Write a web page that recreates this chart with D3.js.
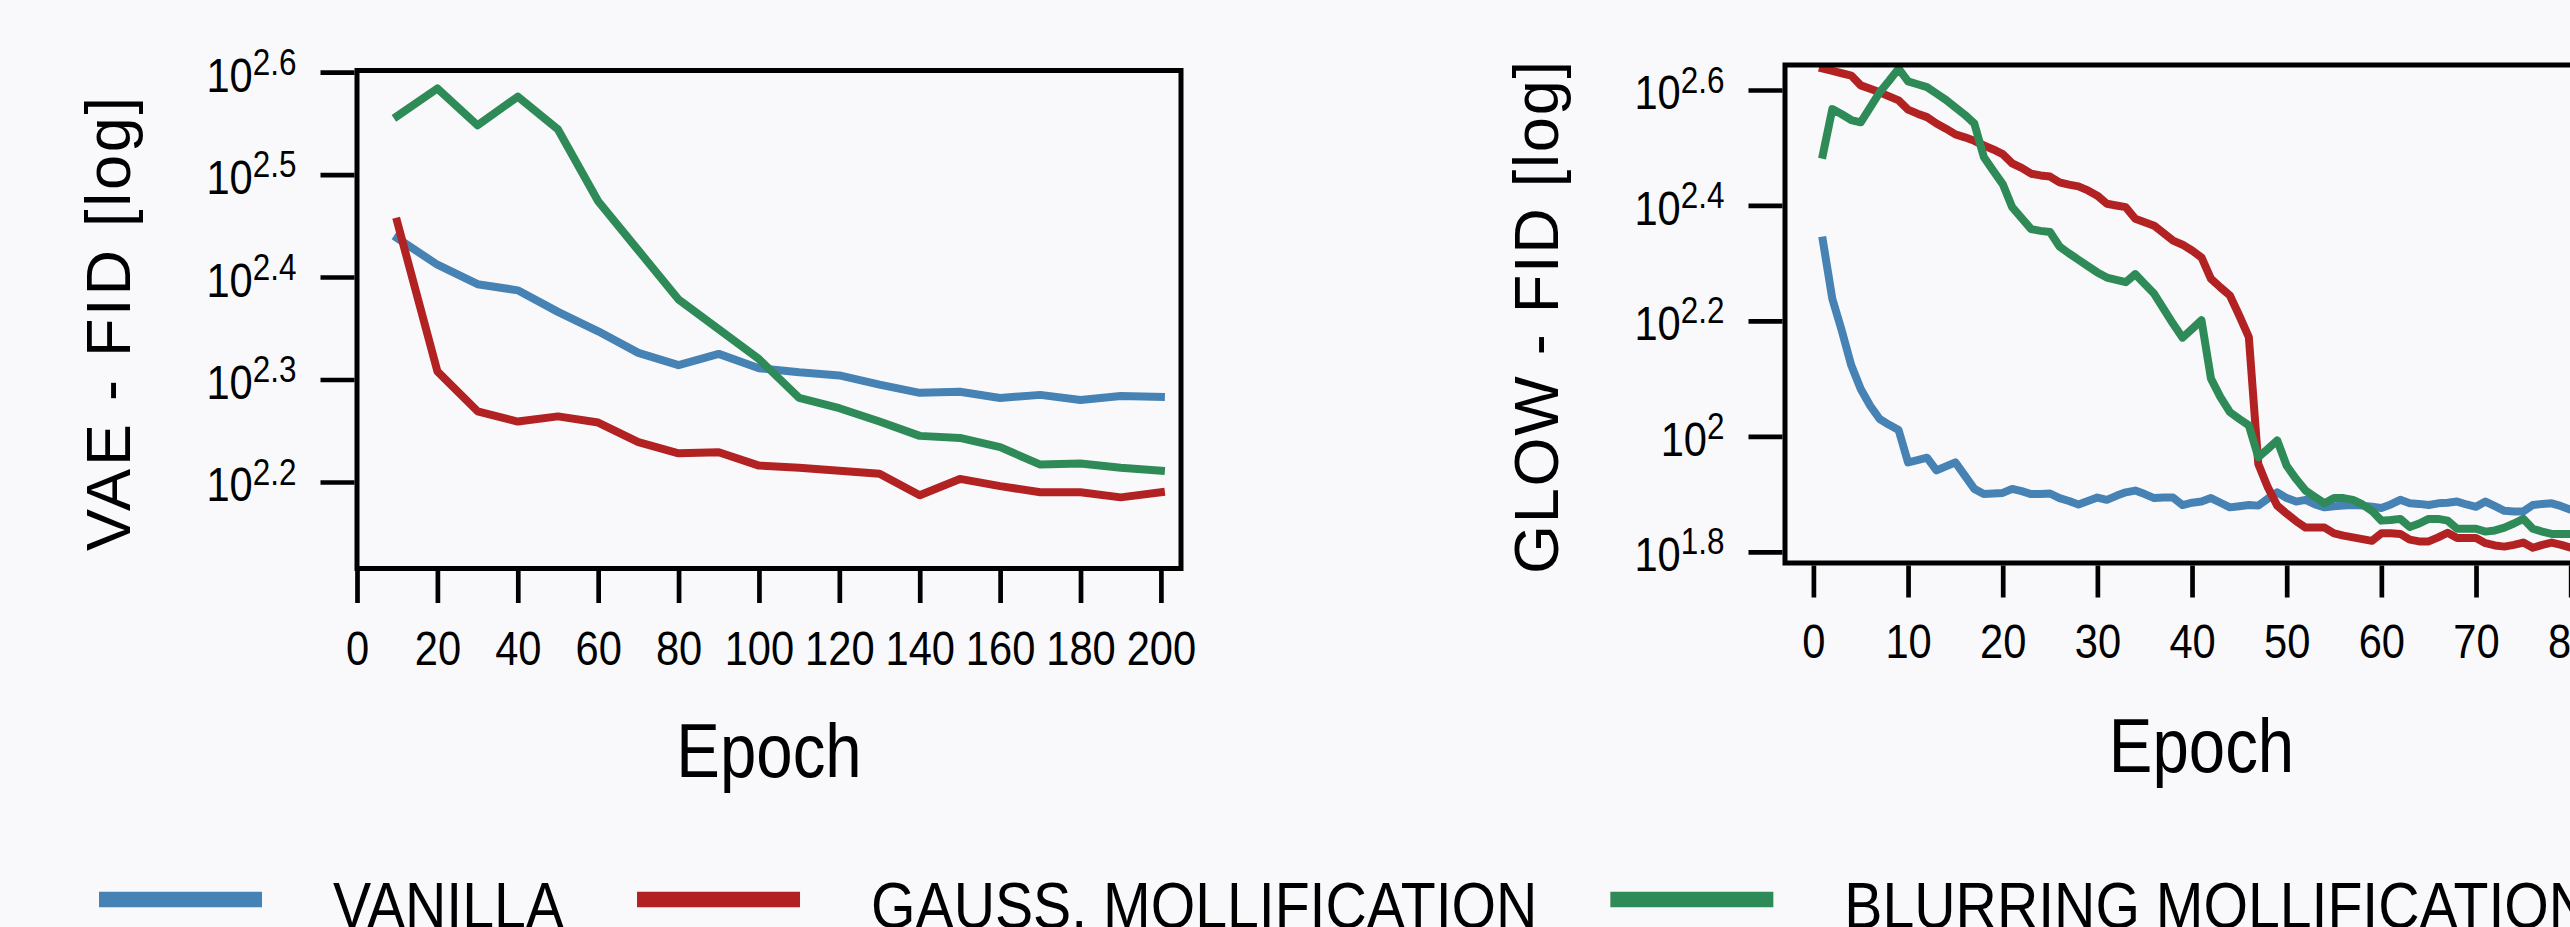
<!DOCTYPE html>
<html>
<head>
<meta charset="utf-8">
<script src="https://cdn.jsdelivr.net/npm/d3@7"></script>
<style>
  body { margin: 0; background: #f9f9fc; overflow: hidden; }
  svg { display: block; font-family: "Liberation Sans", Arial, sans-serif; }
</style>
</head>
<body>
<div id="chart"></div>
<script>
// VAE panel: epochs and log10(FID) per method
var vaeEpochs = [10, 20, 30, 40, 50, 60, 70, 80, 90, 100, 110, 120, 130, 140, 150, 160, 170, 180, 190, 200];
var vaeVanilla = [2.438, 2.412, 2.393, 2.387, 2.366, 2.347, 2.326, 2.314, 2.325, 2.311, 2.307, 2.304, 2.295, 2.287, 2.288, 2.282, 2.285, 2.280, 2.284, 2.283];
var vaeGauss = [2.454, 2.308, 2.269, 2.259, 2.264, 2.258, 2.239, 2.228, 2.229, 2.216, 2.214, 2.211, 2.208, 2.187, 2.203, 2.196, 2.190, 2.190, 2.185, 2.190];
var vaeBlur = [2.557, 2.584, 2.548, 2.576, 2.544, 2.474, 2.426, 2.378, 2.349, 2.320, 2.282, 2.272, 2.259, 2.245, 2.243, 2.234, 2.217, 2.218, 2.214, 2.211];

// GLOW panel: epochs and log10(FID) per method
var glowEpochs = [1, 2, 3, 4, 5, 6, 7, 8, 9, 10, 11, 12, 13, 14, 15, 16, 17, 18, 19, 20,
  21, 22, 23, 24, 25, 26, 27, 28, 29, 30, 31, 32, 33, 34, 35, 36, 37, 38, 39, 40,
  41, 42, 43, 44, 45, 46, 47, 48, 49, 50, 51, 52, 53, 54, 55, 56, 57, 58, 59, 60,
  61, 62, 63, 64, 65, 66, 67, 68, 69, 70, 71, 72, 73, 74, 75, 76, 77, 78, 79, 80, 81];
var glowVanilla = [2.339, 2.238, 2.183, 2.123, 2.082, 2.053, 2.030, 2.020, 2.011, 1.955,
  1.959, 1.963, 1.941, 1.948, 1.955, 1.932, 1.909, 1.900, 1.901, 1.902,
  1.909, 1.905, 1.900, 1.900, 1.901, 1.893, 1.888, 1.882, 1.888, 1.894,
  1.890, 1.897, 1.903, 1.906, 1.900, 1.893, 1.894, 1.894, 1.881, 1.885,
  1.887, 1.893, 1.885, 1.877, 1.879, 1.881, 1.880, 1.892, 1.903, 1.893,
  1.887, 1.890, 1.882, 1.877, 1.879, 1.880, 1.881, 1.880, 1.878, 1.876,
  1.882, 1.890, 1.884, 1.883, 1.881, 1.884, 1.885, 1.887, 1.882, 1.878,
  1.887, 1.879, 1.871, 1.870, 1.870, 1.881, 1.883, 1.884, 1.879, 1.873, 1.870];
var glowGauss = [2.637, 2.633, 2.629, 2.625, 2.608, 2.602, 2.596, 2.589, 2.582, 2.566,
  2.559, 2.553, 2.542, 2.533, 2.523, 2.518, 2.512, 2.504, 2.497, 2.489,
  2.473, 2.465, 2.455, 2.452, 2.450, 2.440, 2.436, 2.433, 2.426, 2.417,
  2.403, 2.400, 2.397, 2.377, 2.371, 2.365, 2.352, 2.339, 2.332, 2.322,
  2.310, 2.273, 2.258, 2.244, 2.209, 2.172, 1.952, 1.912, 1.880, 1.866,
  1.853, 1.842, 1.842, 1.842, 1.832, 1.828, 1.825, 1.822, 1.819, 1.832,
  1.832, 1.831, 1.821, 1.818, 1.818, 1.825, 1.833, 1.824, 1.824, 1.824,
  1.815, 1.811, 1.809, 1.812, 1.816, 1.807, 1.812, 1.816, 1.812, 1.807, 1.810];
var glowBlur = [2.488, 2.567, 2.558, 2.548, 2.544, 2.570, 2.596, 2.616, 2.637, 2.615,
  2.610, 2.605, 2.594, 2.583, 2.570, 2.557, 2.542, 2.484, 2.460, 2.437,
  2.397, 2.378, 2.359, 2.356, 2.354, 2.329, 2.317, 2.306, 2.295, 2.284,
  2.275, 2.271, 2.267, 2.281, 2.264, 2.247, 2.221, 2.195, 2.171, 2.186,
  2.201, 2.100, 2.068, 2.042, 2.030, 2.019, 1.964, 1.978, 1.993, 1.949,
  1.926, 1.906, 1.895, 1.884, 1.893, 1.893, 1.890, 1.882, 1.871, 1.854,
  1.855, 1.857, 1.843, 1.849, 1.857, 1.857, 1.854, 1.840, 1.840, 1.840,
  1.835, 1.837, 1.842, 1.849, 1.857, 1.840, 1.835, 1.831, 1.831, 1.831, 1.831];

// Ticks
var vaeXTicks = [0, 20, 40, 60, 80, 100, 120, 140, 160, 180, 200];
var vaeYTicks = [2.2, 2.3, 2.4, 2.5, 2.6];
var glowXTicks = [0, 10, 20, 30, 40, 50, 60, 70, 80];
var glowYTicks = [1.8, 2.0, 2.2, 2.4, 2.6];

var seriesNames = ["VANILLA", "GAUSS. MOLLIFICATION", "BLURRING MOLLIFICATION"];
var seriesColors = ["#4682b4", "#b22222", "#2e8b57"];

var W = 2570, H = 927;
var narrow = 0.85; // glyphs in the original are narrower than Liberation Sans

var svg = d3.select("#chart").append("svg")
    .attr("width", W)
    .attr("height", H);

svg.append("rect")
    .attr("width", W)
    .attr("height", H)
    .attr("fill", "#f9f9fc");

function supLabel(v) {
    return String(+v.toFixed(1));
}

function drawPanel(p) {
    var x = d3.scaleLinear().domain(p.xDomain).range([p.left, p.right]);
    var y = d3.scaleLinear().domain(p.yDomain).range([p.bottom, p.top]);
    var g = svg.append("g");

    // Lines
    var line = d3.line()
        .x((d, i) => x(p.epochs[i]))
        .y(d => y(d));
    p.series.forEach(function(s, k) {
        g.append("path")
            .attr("d", line(s))
            .attr("fill", "none")
            .attr("stroke", seriesColors[k])
            .attr("stroke-width", 8)
            .attr("stroke-linejoin", "round")
            .attr("stroke-linecap", "square");
    });

    // Frame
    g.append("rect")
        .attr("x", p.left)
        .attr("y", p.top)
        .attr("width", p.right - p.left)
        .attr("height", p.bottom - p.top)
        .attr("fill", "none")
        .attr("stroke", "#000")
        .attr("stroke-width", 5);

    // X axis
    var xAxis = g.append("g")
        .attr("transform", `translate(0,${p.bottom + 2.5})`)
        .call(d3.axisBottom(x).tickValues(p.xTicks).tickSize(32).tickFormat(d3.format("d")));
    xAxis.select(".domain").remove();
    xAxis.selectAll(".tick line")
        .attr("stroke", "#000")
        .attr("stroke-width", 4.7);
    xAxis.selectAll(".tick text")
        .attr("y", 0)
        .attr("dy", null)
        .attr("fill", "#000")
        .attr("font-size", 49)
        .attr("font-family", "Liberation Sans, Arial, sans-serif")
        .attr("transform", `translate(0,${p.xLabelBase}) scale(${narrow},1)`);

    // Y axis
    var yAxis = g.append("g")
        .attr("transform", `translate(${p.left - 2.5},0)`)
        .call(d3.axisLeft(y).tickValues(p.yTicks).tickSize(34));
    yAxis.select(".domain").remove();
    yAxis.selectAll(".tick line")
        .attr("stroke", "#000")
        .attr("stroke-width", 4.7);
    yAxis.selectAll(".tick text").each(function(d) {
        var t = d3.select(this);
        t.text(null)
            .attr("x", 0)
            .attr("dy", null)
            .attr("fill", "#000")
            .attr("text-anchor", "end")
            .attr("font-size", 49)
            .attr("font-family", "Liberation Sans, Arial, sans-serif")
            .attr("transform", `translate(-58,19) scale(${narrow},1)`);
        t.append("tspan").text("10");
        t.append("tspan").attr("dy", -17).attr("font-size", 37).text(supLabel(d));
    });

    // Axis titles
    g.append("text")
        .attr("text-anchor", "middle")
        .attr("font-size", 76)
        .attr("transform", `translate(${(p.left + p.right) / 2},${p.xTitleBase}) scale(0.86,1)`)
        .text("Epoch");

    g.append("text")
        .attr("text-anchor", "middle")
        .attr("font-size", 63)
        .attr("textLength", p.yTitleLen)
        .attr("lengthAdjust", "spacing")
        .attr("transform", `translate(${p.yTitleX},${p.yTitleY}) rotate(-90)`)
        .text(p.yTitle);
}

drawPanel({
    left: 357, right: 1181, top: 70.5, bottom: 568.5,
    xDomain: [0, 205], yDomain: [2.1156, 2.6015],
    epochs: vaeEpochs, series: [vaeVanilla, vaeGauss, vaeBlur],
    xTicks: vaeXTicks, yTicks: vaeYTicks,
    xLabelBase: 94, xTitleBase: 777,
    yTitle: "VAE - FID [log]", yTitleX: 130, yTitleY: 324, yTitleLen: 454
});

drawPanel({
    left: 1785, right: 2618, top: 65, bottom: 563,
    xDomain: [-3, 85], yDomain: [1.7806, 2.6433],
    epochs: glowEpochs, series: [glowVanilla, glowGauss, glowBlur],
    xTicks: glowXTicks, yTicks: glowYTicks,
    xLabelBase: 92, xTitleBase: 772,
    yTitle: "GLOW - FID [log]", yTitleX: 1558, yTitleY: 317.5, yTitleLen: 513
});

// Legend
var legend = svg.append("g");
var lx = 99;
seriesNames.forEach(function(name, k) {
    legend.append("line")
        .attr("x1", lx).attr("x2", lx + 163)
        .attr("y1", 899.5).attr("y2", 899.5)
        .attr("stroke", seriesColors[k])
        .attr("stroke-width", 15.6);
    var t = legend.append("text")
        .attr("font-size", 65)
        .attr("transform", `translate(${lx + 163 + 71},928) scale(0.88,1)`)
        .text(name);
    lx = lx + 163 + 71 + t.node().getComputedTextLength() * 0.88 + 73;
});
</script>
</body>
</html>
